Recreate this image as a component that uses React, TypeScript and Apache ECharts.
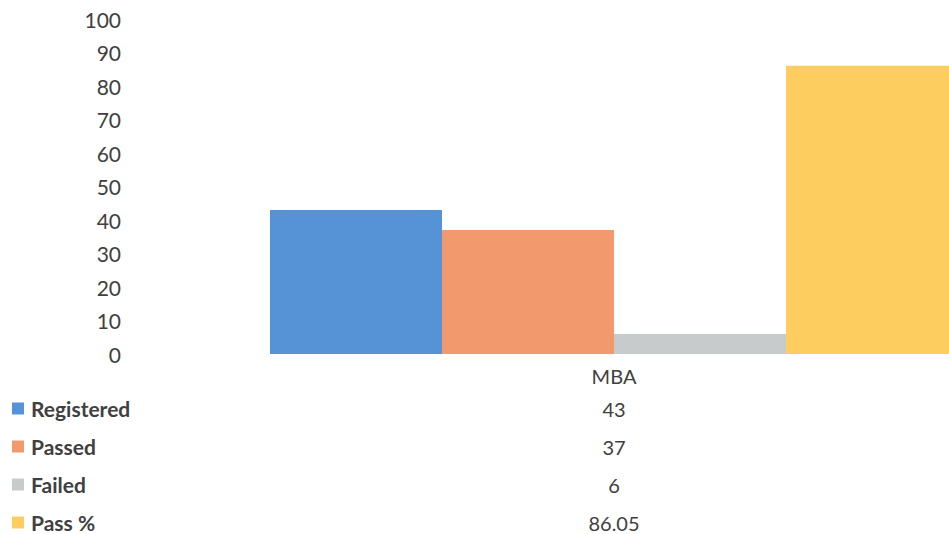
import React, { useEffect, useRef } from "react";
import * as echarts from "echarts";

const categories = ["MBA"];
const seriesNames = ["Registered", "Passed", "Failed", "Pass %"];
const seriesValues = [43, 37, 6, 86.05];
const seriesColors = ["#5593D6", "#F2996D", "#C8CBCB", "#FECD5F"];
const yTicks = { min: 0, max: 100, interval: 10 };

const FONT = "Lato, 'Open Sans', sans-serif";
const TEXT = "#404040";

export default function App() {
  const ref = useRef<HTMLDivElement>(null);
  useEffect(() => {
    if (!ref.current) return;
    const chart = echarts.init(ref.current, null, { renderer: "svg" });
    const rowTop = 409;
    const rowStep = 38;
    const legendTextH = 21;
    chart.setOption({
      animation: false,
      backgroundColor: "#ffffff",
      grid: { left: 130, top: 19, height: 335, right: 2, containLabel: false },
      legend: {
        orient: "vertical",
        left: 12,
        top: rowTop - legendTextH / 2 - 0.5,
        padding: 0,
        itemWidth: 12,
        itemHeight: 12,
        itemGap: rowStep - legendTextH,
        icon: "rect",
        textStyle: { color: TEXT, fontFamily: FONT, fontSize: 21, fontWeight: "bold", lineHeight: legendTextH, padding: [0, 0, 0, 2] },
        data: seriesNames,
      },
      xAxis: {
        type: "category",
        data: categories,
        axisLine: { show: false },
        axisTick: { show: false },
        axisLabel: { color: TEXT, fontFamily: FONT, fontSize: 20, margin: 12 },
      },
      yAxis: {
        type: "value",
        min: yTicks.min,
        max: yTicks.max,
        interval: yTicks.interval,
        axisLine: { show: false },
        axisTick: { show: false },
        splitLine: { show: false },
        axisLabel: { color: TEXT, fontFamily: FONT, fontSize: 21, margin: 9, padding: [0, 0, 4, 0] },
      },
      series: seriesNames.map((name, i) => ({
        name,
        type: "bar",
        data: [seriesValues[i]],
        barWidth: 172,
        barGap: "0%",
        itemStyle: { color: seriesColors[i] },
      })),
      graphic: seriesValues.map((v, i) => ({
        type: "text",
        x: 614,
        y: rowTop + i * rowStep,
        style: {
          text: String(v),
          fill: TEXT,
          font: `20px ${FONT}`,
          textAlign: "center",
          textVerticalAlign: "middle",
        },
      })),
    });
    return () => chart.dispose();
  }, []);
  return (
    <div style={{ position: "absolute", left: 0, top: 0, width: 949, height: 534, overflow: "hidden" }}>
      <div ref={ref} style={{ width: 1100, height: 600 }} />
    </div>
  );
}
